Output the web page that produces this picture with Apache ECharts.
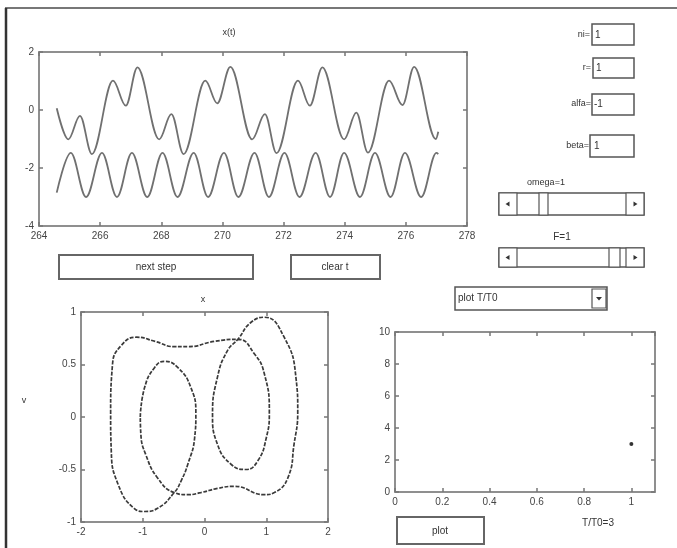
<!DOCTYPE html>
<html>
<head>
<meta charset="utf-8">
<script src="https://cdn.jsdelivr.net/npm/echarts@6/dist/echarts.min.js"></script>
<style>
html,body{margin:0;padding:0;background:#fff;}
#c{width:677px;height:548px;}
</style>
</head>
<body>
<div id="c"></div>
<script>
// ---- x(t) panel: turning points ----
const upperT = [264.58,264.96,265.34,265.73,266.42,266.84,267.22,267.93,268.33,268.73,269.44,269.83,270.26,270.97,271.39,271.77,272.47,272.86,273.27,273.98,274.38,274.76,275.45,275.89,276.27,276.98,277.06];
const upperX = [0.06,-1.01,-0.20,-1.52,1.01,0.15,1.47,-1.01,-0.14,-1.52,1.01,0.23,1.49,-1.01,-0.14,-1.49,1.01,0.15,1.47,-1.01,-0.09,-1.47,1.01,0.17,1.49,-1.00,-0.75];
const lowerT = [264.58,265.04,265.54,266.06,266.55,267.04,267.54,268.04,268.53,269.06,269.53,270.05,270.52,271.05,271.52,272.03,272.52,273.05,273.52,273.98,274.50,274.99,275.50,275.97,276.50,277.00,277.06];
const lowerX = [-2.85,-1.48,-3.00,-1.48,-3.00,-1.48,-3.00,-1.48,-3.00,-1.48,-3.00,-1.48,-3.00,-1.48,-3.00,-1.48,-3.00,-1.48,-3.00,-1.48,-3.00,-1.48,-3.00,-1.48,-3.00,-1.48,-1.52];

// ---- phase portrait (x, v) ----
const phaseX = [-1.04,-0.97,-0.81,-0.65,-0.43,-0.22,-0.14,-0.16,-0.27,-0.38,-0.49,-0.76,-0.97,-1.14,-1.40,-1.51,-1.52,-1.49,-1.35,-1.10,-0.80,-0.49,-0.27,0.16,0.54,0.81,0.97,1.05,1.00,0.86,0.67,0.43,0.21,0.13,0.21,0.37,0.54,0.75,0.97,1.29,1.48,1.51,1.45,1.35,1.13,0.97,0.48,0.21,-0.06,-0.27,-0.49,-0.76,-0.95,-1.03,-1.04];
const phaseV = [0.00,0.28,0.47,0.53,0.47,0.28,0.03,-0.20,-0.45,-0.61,-0.72,-0.87,-0.90,-0.87,-0.64,-0.32,0.03,0.50,0.68,0.76,0.72,0.67,0.67,0.72,0.74,0.60,0.41,0.05,-0.20,-0.42,-0.50,-0.45,-0.26,0.02,0.38,0.63,0.74,0.90,0.95,0.76,0.38,0.05,-0.26,-0.58,-0.72,-0.74,-0.66,-0.68,-0.72,-0.74,-0.72,-0.58,-0.36,-0.17,0.00];

// ---- T/T0 panel ----
const ratioX = [1];
const ratioY = [3];

// tick settings
const topXTicks = {min:264, max:278, interval:2};
const topYTicks = {min:-4, max:2, interval:2};
const phXTicks = {min:-2, max:2, interval:1};
const phYTicks = {min:-1, max:1, interval:0.5};
const brXTicks = {min:0, max:1.1, interval:0.2};
const brYTicks = {min:0, max:10, interval:2};

const FONT = 'Liberation Sans, Arial, sans-serif';
const zip = (a,b) => a.map((v,i)=>[v,b[i]]);

function axis(t, gi, pos, showLabel){
  return {
    type:'value', gridIndex:gi, position:pos,
    min:t.min, max:t.max, interval:t.interval,
    axisLine:{show:true, onZero:false, lineStyle:{color:'#888', width:1.5}},
    splitLine:{show:false},
    axisTick:{show:true, inside:true, length:4, lineStyle:{color:'#777', width:1.5}},
    axisLabel:{show:showLabel, color:'#444', fontSize:10, fontFamily:FONT, margin:5, showMaxLabel:true}
  };
}

const chart = echarts.init(document.getElementById('c'), null, {renderer:'canvas'});

function txt(x,y,s,align,size,color){
  return {type:'text', x:x, y:y, silent:true, style:{text:s, font:(size||10)+'px '+FONT, fill:color||'#333',
    align:align||'center', textAlign:align||'center', verticalAlign:'middle', textVerticalAlign:'middle'}};
}
function box(x,y,w,h,lw,stroke){
  return {type:'rect', shape:{x:x,y:y,width:w,height:h}, silent:true, style:{fill:'#fff', stroke:stroke||'#555', lineWidth:lw||1.5}};
}
function tri(cx,cy,dir){
  const s=2.5;
  const pts = dir<0 ? [[cx-s,cy],[cx+s*0.6,cy-s],[cx+s*0.6,cy+s]] : [[cx+s,cy],[cx-s*0.6,cy-s],[cx-s*0.6,cy+s]];
  return {type:'polygon', shape:{points:pts}, silent:true, style:{fill:'#333'}};
}
function triDown(cx,cy){
  return {type:'polygon', shape:{points:[[cx-3,cy-1.5],[cx+3,cy-1.5],[cx,cy+2]]}, silent:true, style:{fill:'#333'}};
}

const graphics = [
  {type:'line', shape:{x1:5, y1:8, x2:677, y2:8}, silent:true, style:{stroke:'#777', lineWidth:2}},
  {type:'line', shape:{x1:6, y1:8, x2:6, y2:548}, silent:true, style:{stroke:'#333', lineWidth:2.5}},
  txt(229,33,'x(t)','center',9),
  txt(203,300,'x','center',9),
  txt(24,401,'v','center',9),
  txt(598,523,'T/T0=3','center',10),
  txt(590,35,'ni=','right',9), box(592,24,42,21,1.5), txt(595,35,'1','left',10),
  txt(591,68,'r=','right',9), box(593,58,41,20,1.5), txt(596,68,'1','left',10),
  txt(591,104,'alfa=','right',9), box(592,94,42,21,1.5), txt(594,104,'-1','left',10),
  txt(589,146,'beta=','right',9), box(590,135,44,22,1.5), txt(594,146,'1','left',10),
  txt(546,183,'omega=1','center',9),
  box(499,193,145,22,1.5), box(499,193,18,22,1.2), box(626,193,18,22,1.2), box(539,193,9,22,1.2),
  tri(508,204,-1), tri(635,204,1),
  txt(562,237,'F=1','center',10),
  box(499,248,145,19,1.5), box(499,248,18,19,1.2), box(626,248,18,19,1.2), box(609,248,11,19,1.2),
  tri(508,257.5,-1), tri(635,257.5,1),
  box(455,287,152,23,1.5), box(592,289,14,19,1.2), triDown(599,298.5),
  txt(458,298,'plot T/T0','left',10),
  box(59,255,194,24,2,'#666'), txt(156,267,'next step','center',10),
  box(291,255,89,24,2,'#666'), txt(335,267,'clear t','center',10),
  box(397,517,87,27,2,'#666'), txt(440,531,'plot','center',10)
];

const option = {
  animation:false,
  backgroundColor:'#fff',
  grid:[
    {left:39, top:52, width:428, height:174, show:true, borderColor:'#888', borderWidth:1.5, backgroundColor:'transparent'},
    {left:81, top:312, width:247, height:210, show:true, borderColor:'#888', borderWidth:1.5, backgroundColor:'transparent'},
    {left:395, top:332, width:260, height:160, show:true, borderColor:'#888', borderWidth:1.5, backgroundColor:'transparent'}
  ],
  xAxis:[
    axis(topXTicks,0,'bottom',true),
    axis(topXTicks,0,'top',false),
    axis(phXTicks,1,'bottom',true),
    axis(phXTicks,1,'top',false),
    axis(brXTicks,2,'bottom',true),
    axis(brXTicks,2,'top',false)
  ],
  yAxis:[
    axis(topYTicks,0,'left',true),
    axis(topYTicks,0,'right',false),
    axis(phYTicks,1,'left',true),
    axis(phYTicks,1,'right',false),
    axis(brYTicks,2,'left',true),
    axis(brYTicks,2,'right',false)
  ],
  series:[
    {type:'line', xAxisIndex:0, yAxisIndex:0, data:zip(upperT,upperX), smooth:0.36, smoothMonotone:'x', symbol:'none', lineStyle:{color:'#707070', width:1.8}},
    {type:'line', xAxisIndex:0, yAxisIndex:0, data:zip(lowerT,lowerX), smooth:0.36, smoothMonotone:'x', symbol:'none', lineStyle:{color:'#707070', width:1.8}},
    {type:'line', xAxisIndex:2, yAxisIndex:2, data:zip(phaseX,phaseV), smooth:0.5, symbol:'none', lineStyle:{color:'#3a3a3a', width:1.7, type:[4,1.5]}},
    {type:'scatter', xAxisIndex:4, yAxisIndex:4, data:zip(ratioX,ratioY), symbol:'circle', symbolSize:4, itemStyle:{color:'#000'}}
  ],
  graphic:graphics
};
option.xAxis[4].axisLabel.showMaxLabel = false;
chart.setOption(option);
</script>
</body>
</html>
